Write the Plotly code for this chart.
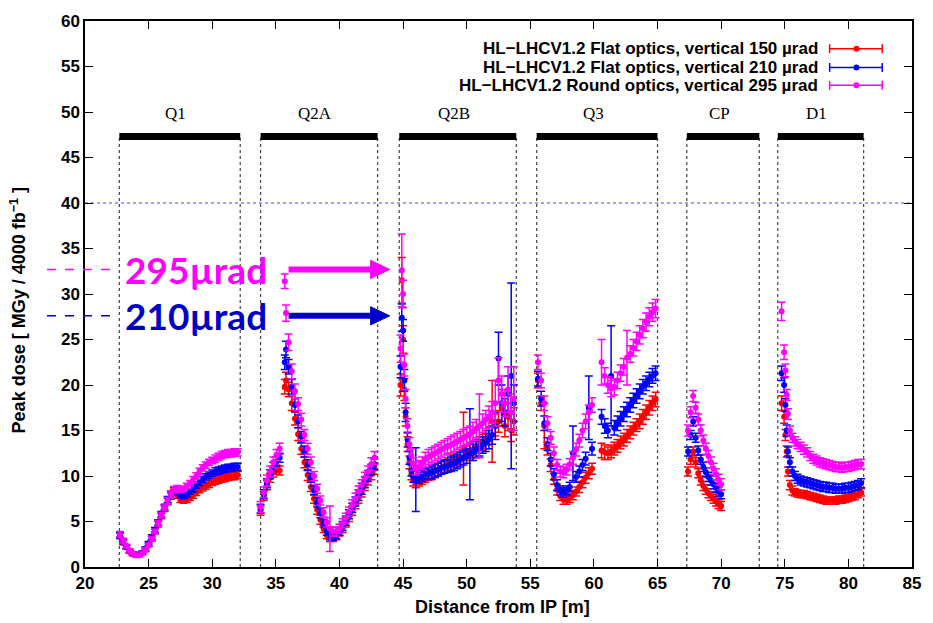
import plotly.graph_objects as go

# ---------------- data ----------------
X = [
    # Q1
    22.75, 23.0, 23.25, 23.5, 23.75, 24.0, 24.25, 24.5, 24.75, 25.0, 25.25, 25.5, 25.75,
    26.0, 26.25, 26.5, 26.75, 27.0, 27.25, 27.5, 27.75, 28.0, 28.25, 28.5, 28.75, 29.0,
    29.25, 29.5, 29.75, 30.0, 30.25, 30.5, 30.75, 31.0, 31.25, 31.5, 31.75, 32.0,
    # Q2A (first part)
    33.8, 34.05, 34.3, 34.55, 34.8, 35.05, 35.3,
    # Q2A (second part)
    35.7, 35.8, 36.0, 36.25, 36.5, 36.75, 37.0, 37.25, 37.5, 37.75, 38.0, 38.25, 38.5,
    38.75, 39.0, 39.25, 39.5, 39.75, 40.0, 40.25, 40.5, 40.75, 41.0, 41.25, 41.5, 41.75,
    42.0, 42.25, 42.5, 42.75,
    # Q2B
    44.8, 44.9, 45.0, 45.1, 45.2, 45.35, 45.5, 45.65, 45.8, 46.0, 46.25, 46.5, 46.75,
    47.0, 47.25, 47.5, 47.75, 48.0, 48.25, 48.5, 48.75, 49.0, 49.25, 49.5, 49.75, 50.0,
    50.25, 50.5, 50.75, 51.0, 51.25, 51.5, 51.75, 52.0, 52.25, 52.5, 52.75, 53.0, 53.25,
    53.5, 53.7,
    # Q3 (first part)
    55.6, 55.85, 56.1, 56.35, 56.6, 56.85, 57.1, 57.35, 57.6, 57.85, 58.1, 58.35, 58.6,
    58.85, 59.1, 59.35, 59.6, 59.85,
    # Q3 (second part)
    60.6, 60.85, 61.1, 61.35, 61.6, 61.85, 62.1, 62.35, 62.6, 62.85, 63.1, 63.35, 63.6,
    63.85, 64.1, 64.35, 64.6, 64.85,
    # CP
    67.4, 67.6, 67.8, 68.0, 68.2, 68.4, 68.6, 68.8, 69.0, 69.2, 69.4, 69.6, 69.8, 70.0,
    # D1
    74.75, 74.95, 75.05, 75.15, 75.25, 75.4, 75.6, 75.8, 76.0, 76.25, 76.5, 76.75, 77.0,
    77.25, 77.5, 77.75, 78.0, 78.25, 78.5, 78.75, 79.0, 79.25, 79.5, 79.75, 80.0, 80.25,
    80.5, 80.75, 81.0,
]

RED_150 = [
    3.4, 2.7, 2.2, 1.7, 1.4, 1.3, 1.3, 1.5, 1.9, 2.5, 3.1, 3.9, 4.7, 5.6, 6.4, 7.2, 7.8,
    8.2, 7.9, 7.4, 7.3, 7.4, 7.6, 7.9, 8.2, 8.5, 8.7, 8.9, 9.1, 9.3, 9.5, 9.6, 9.7, 9.8,
    9.9, 10.0, 10.0, 10.1,
    6.2, 7.8, 9.0, 9.8, 10.4, 10.7, 10.6,
    19.8, 20.5, 19.5, 18.0, 16.3, 14.6, 13.0, 11.5, 10.1, 8.8, 7.5, 6.3, 5.2, 4.2, 3.5,
    3.2, 3.2, 3.4, 3.8, 4.3, 4.9, 5.5, 6.2, 6.9, 7.6, 8.3, 9.0, 9.6, 10.2, 10.8,
    20.0, 31.5, 25.0, 19.5, 16.5, 13.5, 11.5, 10.2, 9.5, 9.3, 9.5, 9.7, 9.9, 10.1, 10.3,
    10.5, 10.7, 10.9, 11.1, 11.3, 11.5, 11.7, 11.9, 12.1, 13.0, 12.5, 12.7, 12.9, 13.1,
    13.4, 13.7, 14.0, 14.4, 16.0, 15.6, 16.0, 17.5, 15.5, 16.5, 15.0, 16.0,
    20.5, 18.0, 15.5, 13.0, 11.2, 9.7, 8.5, 7.8, 7.4, 7.4, 7.6, 7.9, 8.3, 8.8, 9.3, 9.8,
    10.3, 10.8,
    12.8, 12.6, 12.5, 12.7, 13.0, 13.3, 13.7, 14.0, 14.4, 14.8, 15.2, 15.6, 16.0, 16.5,
    17.0, 17.5, 18.0, 18.4,
    10.5, 11.8, 12.7, 11.5, 10.3, 9.5, 8.9, 8.5, 8.1, 7.8, 7.5, 7.2, 6.9, 6.7,
    18.0, 16.5, 14.5, 12.7, 10.5, 9.0, 8.4, 8.2, 8.1, 8.0, 8.0, 7.9, 7.8, 7.7, 7.6, 7.5,
    7.4, 7.3, 7.3, 7.3, 7.3, 7.4, 7.4, 7.5, 7.6, 7.7, 7.8, 8.0, 8.2,
]
RED_150_ERR = [
    0.3, 0.25, 0.2, 0.2, 0.15, 0.15, 0.15, 0.15, 0.2, 0.2, 0.25, 0.25, 0.3, 0.3, 0.3,
    0.35, 0.35, 0.35, 0.35, 0.3, 0.3, 0.3, 0.3, 0.35, 0.35, 0.35, 0.35, 0.35, 0.35, 0.35,
    0.4, 0.4, 0.4, 0.4, 0.4, 0.4, 0.4, 0.4,
    0.5, 0.5, 0.5, 0.5, 0.5, 0.5, 0.5,
    0.8, 0.9, 0.8, 0.8, 0.7, 0.7, 0.6, 0.6, 0.6, 0.5, 0.5, 0.5, 0.5, 0.4, 0.4, 0.4, 0.4,
    0.4, 0.4, 0.5, 0.5, 0.5, 0.5, 0.5, 0.6, 0.6, 0.6, 0.6, 0.6, 0.6,
    1.2, 2.5, 1.5, 1.2, 1.0, 0.8, 0.7, 0.6, 0.6, 0.6, 0.6, 0.6, 0.6, 0.6, 0.7, 0.7, 0.7,
    0.7, 0.7, 0.7, 0.8, 0.8, 0.8, 0.8, 4.0, 0.8, 0.8, 0.9, 0.9, 0.9, 0.9, 1.0, 1.0, 4.5,
    1.2, 1.2, 2.0, 1.2, 1.5, 1.2, 1.5,
    0.8, 0.8, 2.5, 0.7, 0.7, 0.6, 0.6, 0.5, 0.5, 0.5, 0.5, 0.5, 0.5, 0.6, 0.6, 0.6, 0.6,
    0.6,
    0.8, 0.8, 0.7, 0.7, 0.7, 0.7, 0.7, 0.7, 0.7, 0.7, 0.7, 0.7, 0.8, 0.8, 0.8, 0.8, 0.8,
    0.8,
    0.5, 0.5, 0.5, 0.5, 0.5, 0.5, 0.5, 0.5, 0.5, 0.5, 0.5, 0.5, 0.5, 0.5,
    0.8, 0.7, 0.6, 0.6, 0.5, 0.5, 0.5, 0.4, 0.4, 0.4, 0.4, 0.4, 0.4, 0.4, 0.4, 0.4, 0.4,
    0.4, 0.4, 0.4, 0.4, 0.4, 0.4, 0.4, 0.4, 0.4, 0.4, 0.4, 0.4,
]

BLUE_210 = [
    3.5, 2.8, 2.2, 1.8, 1.5, 1.4, 1.4, 1.6, 2.0, 2.6, 3.3, 4.1, 4.9, 5.8, 6.6, 7.4, 8.0,
    8.4, 8.3, 7.9, 7.8, 8.0, 8.3, 8.6, 9.0, 9.3, 9.6, 9.9, 10.1, 10.3, 10.5, 10.6, 10.7,
    10.8, 10.9, 10.9, 11.0, 11.0,
    6.4, 8.0, 9.2, 10.2, 11.0, 11.6, 12.0,
    22.5, 23.9, 22.0, 19.8, 17.8, 16.0, 14.3, 12.7, 11.2, 9.8, 8.4, 7.1, 5.9, 4.8, 3.9,
    3.4, 3.3, 3.5, 3.9, 4.5, 5.1, 5.8, 6.5, 7.2, 7.9, 8.6, 9.3, 10.0, 10.7, 11.3,
    22.0, 27.4, 26.0, 20.5, 17.0, 14.0, 12.0, 10.6, 9.9, 9.6, 9.8, 10.0, 10.2, 10.3, 10.4,
    10.6, 10.7, 10.9, 11.0, 11.1, 11.3, 11.4, 11.6, 11.8, 12.0, 12.2, 12.4, 12.6, 12.9,
    13.1, 13.4, 13.7, 14.0, 14.5, 15.5, 22.9, 18.0, 17.0, 19.0, 21.0, 18.0,
    20.7, 18.5, 15.8, 13.5, 11.8, 10.2, 9.0, 8.4, 8.2, 8.4, 8.8, 12.5, 9.9, 10.5, 11.2,
    11.9, 17.5, 13.0,
    16.5, 15.5, 15.0, 21.0, 15.3, 15.8, 16.3, 16.8, 17.3, 17.8, 18.3, 18.8, 19.3, 19.8,
    20.2, 20.6, 21.0, 21.3,
    12.7, 14.5, 16.0, 14.2, 12.8, 11.8, 11.0, 10.4, 9.9, 9.5, 9.1, 8.7, 8.3, 8.0,
    21.3, 20.0, 17.8, 15.0, 12.7, 11.5, 10.5, 10.0, 9.7, 9.5, 9.4, 9.3, 9.2, 9.1, 9.0,
    8.9, 8.8, 8.8, 8.7, 8.7, 8.6, 8.6, 8.6, 8.7, 8.7, 8.8, 8.9, 9.0, 9.2,
]
BLUE_210_ERR = [
    0.3, 0.25, 0.2, 0.2, 0.15, 0.15, 0.15, 0.15, 0.2, 0.2, 0.25, 0.25, 0.3, 0.3, 0.3,
    0.35, 0.35, 0.35, 0.35, 0.3, 0.3, 0.3, 0.3, 0.35, 0.35, 0.35, 0.35, 0.35, 0.35, 0.35,
    0.4, 0.4, 0.4, 0.4, 0.4, 0.4, 0.4, 0.4,
    0.5, 0.5, 0.5, 0.5, 0.5, 0.5, 0.5,
    0.8, 0.9, 0.8, 0.8, 0.7, 0.7, 0.6, 0.6, 0.6, 0.5, 0.5, 0.5, 0.5, 0.4, 0.4, 0.4, 0.4,
    0.4, 0.4, 0.5, 0.5, 0.5, 0.5, 0.5, 0.6, 0.6, 0.6, 0.6, 0.6, 0.6,
    1.2, 1.5, 1.2, 1.2, 1.0, 0.8, 0.7, 0.6, 0.6, 3.5, 0.6, 0.6, 0.6, 0.6, 0.7, 0.7, 0.7,
    0.7, 0.7, 0.7, 0.8, 0.8, 0.8, 0.8, 0.8, 0.8, 5.0, 0.9, 0.9, 0.9, 0.9, 1.0, 1.0, 1.0,
    1.5, 2.9, 2.0, 1.5, 2.0, 10.2, 2.0,
    0.8, 0.8, 0.8, 0.7, 0.7, 0.6, 0.6, 0.5, 0.5, 0.5, 0.5, 3.0, 0.6, 0.6, 0.6, 0.7, 3.5,
    0.7,
    0.8, 0.8, 0.8, 5.5, 0.8, 0.8, 0.8, 0.8, 0.8, 0.8, 0.8, 0.8, 0.8, 0.8, 0.8, 0.8, 0.8,
    0.8,
    0.5, 0.5, 0.5, 0.5, 0.5, 0.5, 0.5, 0.5, 0.5, 0.5, 0.5, 0.5, 0.5, 0.5,
    0.8, 0.8, 0.7, 0.6, 0.5, 0.5, 0.5, 0.5, 0.5, 0.5, 0.5, 0.5, 0.5, 0.5, 0.5, 0.5, 0.5,
    0.5, 0.5, 0.5, 0.5, 0.5, 0.5, 0.5, 0.5, 0.5, 0.5, 0.5, 0.5,
]

MAG_295 = [
    3.6, 2.9, 2.3, 1.8, 1.5, 1.3, 1.3, 1.5, 1.9, 2.4, 3.1, 3.9, 4.8, 5.7, 6.5, 7.3, 8.0,
    8.5, 8.6, 8.5, 8.6, 8.9, 9.2, 9.6, 10.0, 10.5, 10.9, 11.2, 11.5, 11.7, 11.9, 12.1,
    12.3, 12.4, 12.5, 12.5, 12.6, 12.6,
    6.6, 8.2, 9.5, 10.5, 11.5, 12.3, 13.0,
    31.4, 27.9, 24.7, 21.5, 19.3, 17.9, 16.2, 14.5, 13.0, 11.5, 10.0, 8.6, 7.3, 6.0, 4.9,
    4.2, 3.9, 3.9, 4.2, 4.8, 5.4, 6.1, 6.8, 7.5, 8.3, 9.0, 9.8, 10.5, 11.3, 12.0,
    24.0, 32.6, 30.0, 22.2, 18.5, 15.5, 13.5, 12.3, 11.3, 10.8, 11.0, 11.4, 11.8, 12.1,
    12.3, 12.5, 12.7, 12.9, 13.1, 13.3, 13.4, 13.6, 13.8, 14.0, 14.2, 14.4, 14.6, 14.9,
    15.2, 15.5, 15.8, 16.2, 16.5, 17.0, 18.0, 20.5, 19.0, 18.0, 19.5, 17.0, 18.5,
    22.5, 20.5, 18.0, 15.8, 14.2, 12.5, 11.2, 10.5, 10.4, 10.7, 11.3, 12.0, 12.9, 13.9,
    15.0, 16.0, 17.0, 17.8,
    22.5, 21.0, 20.0, 19.6, 19.8, 20.5, 21.3, 22.0, 23.0, 23.4, 24.1, 24.8, 25.5, 26.2,
    26.9, 27.5, 28.0, 28.4,
    15.0, 17.0, 18.8, 17.5, 16.2, 15.0, 13.9, 13.0, 12.2, 11.5, 10.8, 10.2, 9.6, 9.1,
    28.1, 23.6, 21.6, 18.9, 16.8, 15.0, 14.2, 13.8, 13.5, 13.2, 12.9, 12.6, 12.2, 11.9,
    11.7, 11.5, 11.4, 11.3, 11.2, 11.1, 11.0, 11.0, 10.9, 11.0, 11.0, 11.1, 11.2, 11.3,
    11.3,
]
MAG_295_ERR = [
    0.3, 0.25, 0.2, 0.2, 0.15, 0.15, 0.15, 0.15, 0.2, 0.2, 0.25, 0.25, 0.3, 0.3, 0.3,
    0.35, 0.35, 0.35, 0.35, 0.3, 0.3, 0.3, 0.3, 0.35, 0.35, 0.35, 0.35, 0.35, 0.35, 0.35,
    0.4, 0.4, 0.4, 0.4, 0.4, 0.4, 0.4, 0.4,
    0.6, 0.6, 0.6, 0.6, 0.6, 0.6, 0.6,
    0.8, 0.9, 0.9, 0.8, 0.8, 0.7, 0.7, 0.6, 0.6, 0.6, 0.5, 0.5, 0.5, 0.5, 0.5, 2.5, 0.5,
    0.5, 0.5, 0.5, 0.5, 0.5, 0.6, 0.6, 0.6, 0.6, 0.6, 0.6, 0.7, 0.7,
    1.5, 4.0, 1.5, 1.2, 1.0, 0.8, 0.7, 0.7, 0.7, 0.7, 0.7, 0.7, 0.8, 0.8, 0.8, 0.8, 0.8,
    0.8, 0.8, 0.8, 0.9, 0.9, 0.9, 0.9, 0.9, 0.9, 0.9, 1.0, 1.0, 3.5, 1.0, 1.0, 1.2, 1.2,
    2.5, 2.5, 2.0, 1.5, 2.5, 2.0, 3.5,
    0.8, 0.8, 0.8, 0.7, 0.7, 0.7, 0.6, 0.6, 0.6, 0.6, 0.6, 0.7, 0.7, 0.7, 0.8, 0.8, 0.8,
    0.8,
    2.5, 0.9, 0.9, 0.9, 0.9, 0.9, 0.9, 0.9, 3.0, 0.9, 0.9, 1.0, 1.0, 1.0, 1.0, 1.0, 1.0,
    1.0,
    0.6, 0.6, 0.6, 0.6, 0.6, 0.6, 0.6, 0.6, 0.6, 0.6, 0.6, 0.6, 0.6, 0.6,
    1.0, 0.8, 0.7, 0.6, 0.6, 0.5, 0.5, 0.5, 0.5, 0.5, 0.5, 0.5, 0.5, 0.5, 0.5, 0.5, 0.5,
    0.5, 0.5, 0.5, 0.5, 0.5, 0.5, 0.5, 0.5, 0.5, 0.5, 0.5, 0.5,
]

SERIES_NAMES = [
    "HL\u2212LHCV1.2 Flat optics, vertical 150 \u00b5rad",
    "HL\u2212LHCV1.2 Flat optics, vertical 210 \u00b5rad",
    "HL\u2212LHCV1.2 Round optics, vertical 295 \u00b5rad",
]
SERIES_COLORS = ["#ff0000", "#0000ff", "#ff00ff"]

MAGNET_NAMES = ["Q1", "Q2A", "Q2B", "Q3", "CP", "D1"]
MAGNET_START = [22.7, 33.8, 44.7, 55.5, 67.3, 74.45]
MAGNET_END = [32.2, 43.0, 53.9, 65.0, 73.0, 81.2]
MAGNET_BAR_Y = 47.3
LIMIT_Y = 40
ANGLE_LABELS = ["295\u00b5rad", "210\u00b5rad"]
ANGLE_LEVELS = [32.7, 27.6]
ANGLE_COLORS = ["#ff00ff", "#0000c8"]
ARROW_FROM, ARROW_NECK, ARROW_TIP = 36.0, 42.45, 43.95

# ---------------- figure ----------------
fig = go.Figure()
series = [(RED_150, RED_150_ERR), (BLUE_210, BLUE_210_ERR), (MAG_295, MAG_295_ERR)]
for (ys, es), name, col in zip(series, SERIES_NAMES, SERIES_COLORS):
    fig.add_trace(go.Scatter(
        x=X, y=ys, mode="markers", name=name,
        marker=dict(color=col, size=6, symbol="circle"),
        error_y=dict(type="data", array=es, visible=True, color=col,
                     thickness=1.5, width=4),
        showlegend=False,
    ))

shapes = []
# magnet bars + dotted edges
for s, e in zip(MAGNET_START, MAGNET_END):
    shapes.append(dict(type="rect", xref="x", yref="y", x0=s, x1=e,
                       y0=MAGNET_BAR_Y - 0.38, y1=MAGNET_BAR_Y + 0.38,
                       fillcolor="black", line=dict(width=0)))
    for v in (s, e):
        shapes.append(dict(type="line", xref="x", yref="y", x0=v, x1=v,
                           y0=0, y1=MAGNET_BAR_Y, layer="below",
                           line=dict(color="#444444", width=1.2, dash="dot")))
# limit line
shapes.append(dict(type="line", xref="paper", yref="y", x0=0, x1=1, y0=LIMIT_Y,
                   y1=LIMIT_Y, layer="below",
                   line=dict(color="#4040ff", width=1.2, dash="dot")))
# dashed markers left of axis, and arrows
for lvl, col in zip(ANGLE_LEVELS, ANGLE_COLORS):
    shapes.append(dict(type="line", xref="paper", yref="y", x0=-0.046, x1=0.040,
                       y0=lvl, y1=lvl, line=dict(color=col, width=1.5, dash="dash")))
    shapes.append(dict(type="line", xref="x", yref="y", x0=ARROW_FROM, x1=ARROW_NECK + 0.1,
                       y0=lvl, y1=lvl, line=dict(color=col, width=6)))
    shapes.append(dict(type="path", xref="x", yref="y",
                       path="M %.3f %.3f L %.3f %.3f L %.3f %.3f Z" % (
                           ARROW_NECK, lvl + 1.0, ARROW_TIP, lvl, ARROW_NECK, lvl - 1.0),
                       fillcolor=col, line=dict(color=col, width=1)))

# manual legend keys (text on the left, sample on the right)
leg_rows = [0.9493, 0.9149, 0.8822]
kx0, kx1, kxm = 0.9004, 0.9640, 0.9328
dy = 4.5 / 552
annotations = []
for ry, name, col in zip(leg_rows, SERIES_NAMES, SERIES_COLORS):
    annotations.append(dict(xref="paper", yref="paper", x=0.8884, y=ry, text="<b>%s</b>" % name,
                            showarrow=False, xanchor="right", yanchor="middle",
                            font=dict(family="Liberation Sans, Arial", size=17, color="black")))
    shapes.append(dict(type="line", xref="paper", yref="paper", x0=kx0, x1=kx1, y0=ry, y1=ry,
                       line=dict(color=col, width=1.5)))
    for xx in (kx0, kx1):
        shapes.append(dict(type="line", xref="paper", yref="paper", x0=xx, x1=xx,
                           y0=ry - dy, y1=ry + dy, line=dict(color=col, width=1.5)))
    shapes.append(dict(type="circle", xref="paper", yref="paper",
                       x0=kxm - 3 / 833, x1=kxm + 3 / 833, y0=ry - 3 / 552, y1=ry + 3 / 552,
                       fillcolor=col, line=dict(color=col, width=0)))

# magnet labels
for n, s, e in zip(MAGNET_NAMES, MAGNET_START, MAGNET_END):
    annotations.append(dict(xref="x", yref="y", x=(s + e) / 2 - 0.3, y=49.8, text=n,
                            showarrow=False, xanchor="center", yanchor="middle",
                            font=dict(family="Liberation Serif, Times New Roman", size=17,
                                      color="black")))

# angle labels
for lbl, lvl, col in zip(ANGLE_LABELS, ANGLE_LEVELS, ANGLE_COLORS):
    annotations.append(dict(xref="x", yref="y", x=28.74, y=lvl, text="<b>%s</b>" % lbl,
                            showarrow=False, xanchor="center", yanchor="middle",
                            font=dict(family="Lato, Liberation Sans", size=37, color=col)))

# axis titles
annotations.append(dict(xref="paper", yref="paper", x=0.505, y=-0.0725,
                        text="<b>Distance from IP [m]</b>", showarrow=False,
                        xanchor="center", yanchor="middle",
                        font=dict(family="Liberation Sans, Arial", size=18, color="black")))
annotations.append(dict(xref="paper", yref="paper", x=-0.081, y=0.47,
                        text="<b>Peak dose [ MGy / 4000 fb<sup>\u22121</sup> ]</b>",
                        showarrow=False, textangle=-90, xanchor="center", yanchor="middle",
                        font=dict(family="Liberation Sans, Arial", size=18, color="black")))

axis_common = dict(showline=True, linecolor="black", linewidth=1.5, mirror="ticks",
                   ticks="inside", ticklen=8, tickwidth=1.3, tickcolor="black",
                   showgrid=False, zeroline=False,
                   tickfont=dict(family="Liberation Sans, Arial", size=17, color="black",
                                 weight="bold"))
fig.update_layout(
    width=933, height=623,
    margin=dict(l=85, r=15, t=15, b=56),
    paper_bgcolor="white", plot_bgcolor="white",
    showlegend=False,
    xaxis=dict(range=[20, 85], tick0=20, dtick=5, **axis_common),
    yaxis=dict(range=[0, 60], tick0=0, dtick=5, **axis_common),
    shapes=shapes,
    annotations=annotations,
)

fig.write_html("out.html")
